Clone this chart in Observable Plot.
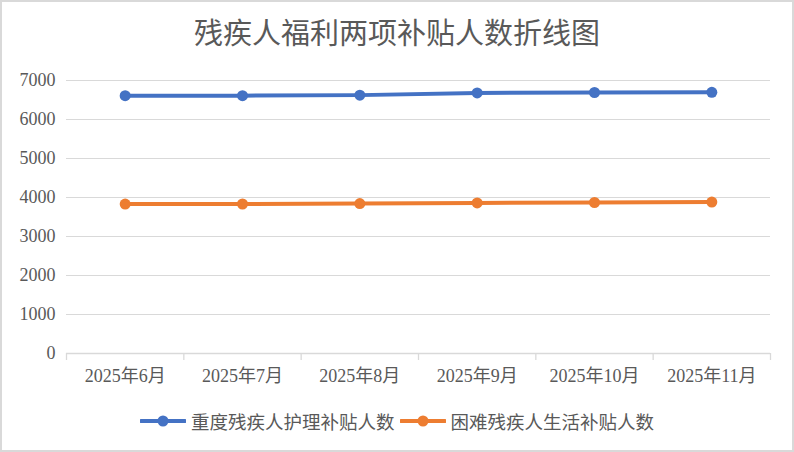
<!DOCTYPE html>
<html>
<head>
<meta charset="utf-8">
<script src="https://cdn.jsdelivr.net/npm/d3@7"></script>
<script src="https://cdn.jsdelivr.net/npm/@observablehq/plot@0.6"></script>
<style>
  html, body { margin: 0; padding: 0; background: #fff; }
  #chart {
    position: relative; width: 790px; height: 448px;
    border: 2px solid #d9d9d9; background: #fff; overflow: hidden;
    font-family: "Liberation Serif", "Noto Sans CJK SC", serif; color: #595959;
  }
  #title {
    position: absolute; left: 0; top: -2px; width: 790px; height: 62px; line-height: 62px;
    text-align: center; font-size: 29px; font-family: "Noto Sans CJK SC", sans-serif; color: #595959;
  }
  #plot { position: absolute; left: 0; top: 60px; }
  #plot svg text { font-family: "Liberation Serif", "Noto Sans CJK SC", serif !important; }
  #legend {
    position: absolute; left: 0; top: 406px; width: 790px; height: 26px;
    display: flex; justify-content: center; align-items: center; gap: 5px;
    font-size: 18.5px; font-family: "Noto Sans CJK SC", sans-serif; color: #595959;
  }
  .item { display: flex; align-items: center; gap: 5px; }
</style>
</head>
<body>
<div id="chart">
  <div id="title"></div>
  <div id="plot"></div>
  <div id="legend"></div>
</div>
<script>
const titleText = "残疾人福利两项补贴人数折线图";
const months = ["2025年6月", "2025年7月", "2025年8月", "2025年9月", "2025年10月", "2025年11月"];
const seriesNames = ["重度残疾人护理补贴人数", "困难残疾人生活补贴人数"];
const severeCare = [6612, 6612, 6625, 6680, 6692, 6697];
const livingAid = [3832, 3833, 3845, 3860, 3872, 3882];
const yTicks = [0, 1000, 2000, 3000, 4000, 5000, 6000, 7000];
const colors = ["#4472C4", "#ED7D31"];

document.getElementById("title").textContent = titleText;

const data = [];
months.forEach((m, i) => {
  data.push({i, month: m, series: seriesNames[0], value: severeCare[i]});
  data.push({i, month: m, series: seriesNames[1], value: livingAid[i]});
});
const boundaries = d3.range(months.length + 1).map(k => k - 0.5);

const plot = Plot.plot({
  width: 790,
  height: 335,
  marginLeft: 64,
  marginRight: 22,
  marginTop: 18,
  marginBottom: 44,
  style: {fontFamily: "Liberation Serif, Noto Sans CJK SC, serif", fontSize: "18px", color: "#595959", background: "transparent"},
  x: {type: "linear", domain: [-0.5, months.length - 0.5]},
  y: {domain: [0, 7000]},
  color: {domain: seriesNames, range: colors},
  marks: [
    Plot.gridY(yTicks.filter(v => v > 0), {stroke: "#d9d9d9", strokeOpacity: 1, strokeWidth: 1}),
    Plot.ruleY([0], {stroke: "#d9d9d9", strokeWidth: 1.3}),
    Plot.axisX(boundaries, {tickSize: 7, tickFormat: () => "", stroke: "#d9d9d9", strokeWidth: 1.3, label: null}),
    Plot.axisX(d3.range(months.length), {tickSize: 0, tickPadding: 16, tickFormat: k => months[k], fill: "#595959", fontSize: 18, label: null}),
    Plot.axisY(yTicks, {tickSize: 0, tickPadding: 11, fill: "#595959", fontSize: 18, label: null, tickFormat: d => String(d)}),
    Plot.line(data, {x: "i", y: "value", z: "series", stroke: "series", strokeWidth: 4}),
    Plot.dot(data, {x: "i", y: "value", fill: "series", r: 5.5, stroke: null})
  ]
});
document.getElementById("plot").appendChild(plot);

const legend = document.getElementById("legend");
seriesNames.forEach((name, k) => {
  const item = document.createElement("div");
  item.className = "item";
  item.innerHTML = `<svg width="46" height="14"><line x1="1" y1="7" x2="45" y2="7" stroke="${colors[k]}" stroke-width="4" stroke-linecap="round"/><circle cx="23" cy="7" r="5.5" fill="${colors[k]}"/></svg><span>${name}</span>`;
  legend.appendChild(item);
});
</script>
</body>
</html>
